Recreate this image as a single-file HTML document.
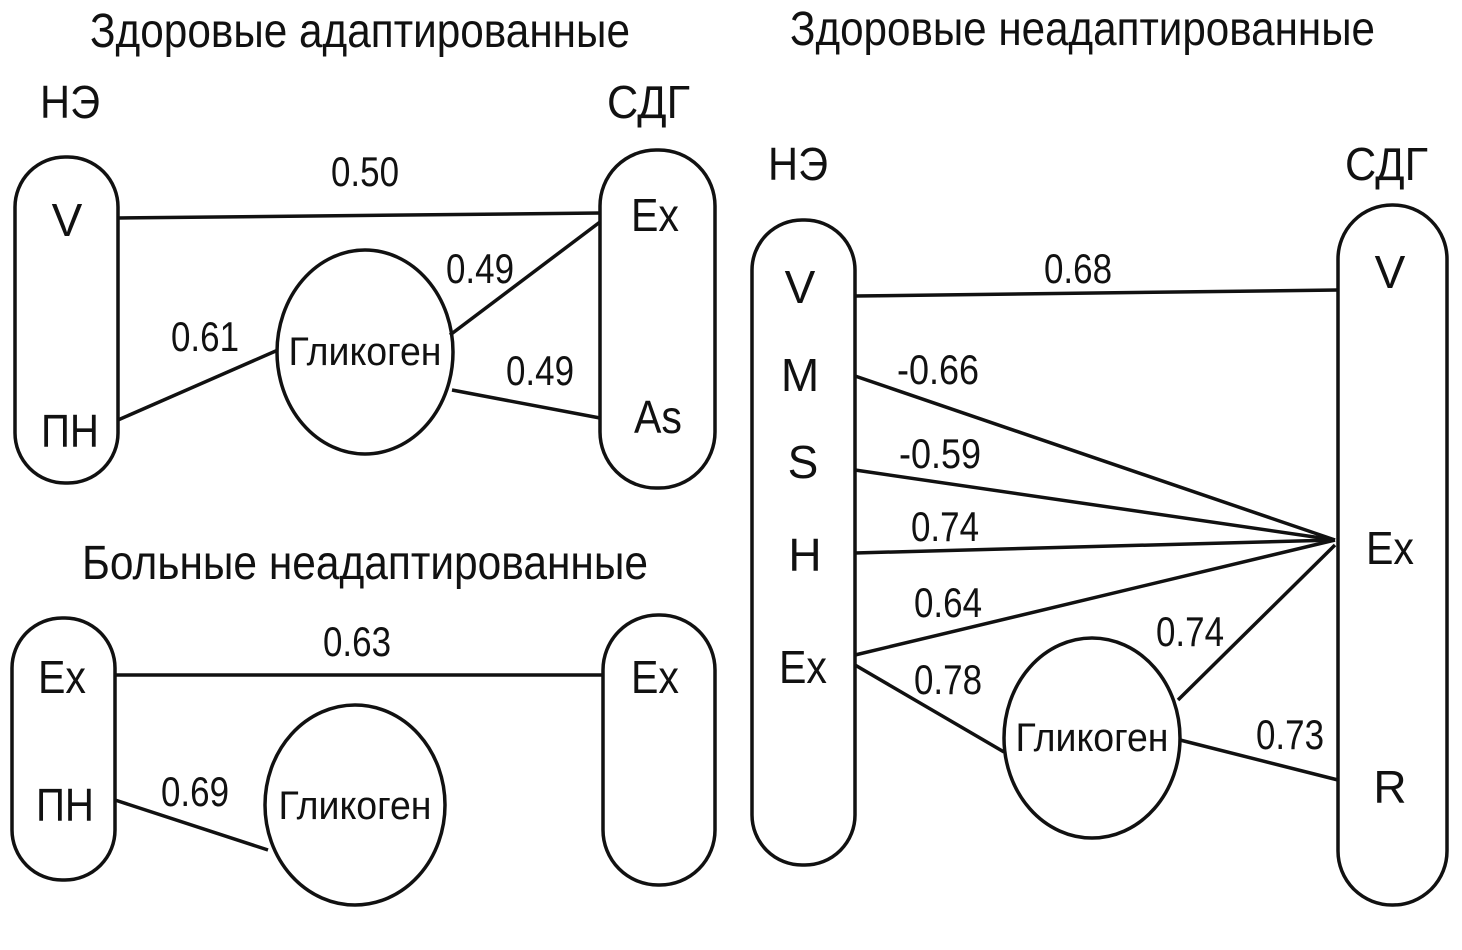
<!DOCTYPE html>
<html><head><meta charset="utf-8"><style>
html,body{margin:0;padding:0;background:#fff;}
svg{display:block}
text{font-family:"Liberation Sans Narrow","Liberation Sans",sans-serif;fill:#111;}
.t{font-size:48px}
.l{font-size:46px}
.n{font-size:42px}
.g{font-size:40px}
</style></head><body>
<svg width="1462" height="950" viewBox="0 0 1462 950" xmlns="http://www.w3.org/2000/svg">
<g fill="none" stroke="#111" stroke-width="3.5">
<rect x="15" y="157" width="103" height="326" rx="50"/>
<rect x="600" y="150" width="115" height="338" rx="56"/>
<ellipse cx="365" cy="352" rx="88" ry="102"/>
<line x1="118" y1="218" x2="600" y2="213"/>
<line x1="118" y1="420" x2="278" y2="350"/>
<line x1="450" y1="335" x2="600" y2="222"/>
<line x1="452" y1="390" x2="600" y2="418"/>
<rect x="12" y="618" width="103" height="262" rx="50"/>
<rect x="603" y="615" width="112" height="270" rx="55"/>
<ellipse cx="355" cy="805" rx="90" ry="100"/>
<line x1="115" y1="675" x2="603" y2="675"/>
<line x1="115" y1="800" x2="268" y2="850"/>
<rect x="752" y="220" width="103" height="645" rx="50"/>
<rect x="1338" y="205" width="109" height="700" rx="54"/>
<ellipse cx="1092" cy="738" rx="88" ry="100"/>
<line x1="855" y1="296" x2="1338" y2="290"/>
<line x1="855" y1="376" x2="1335" y2="540"/>
<line x1="855" y1="470" x2="1335" y2="540"/>
<line x1="855" y1="553" x2="1335" y2="540"/>
<line x1="855" y1="655" x2="1335" y2="540"/>
<line x1="855" y1="665" x2="1004" y2="752"/>
<line x1="1178" y1="700" x2="1335" y2="545"/>
<line x1="1180" y1="740" x2="1338" y2="780"/>
</g>
<text class="t" x="90" y="47" textLength="540" lengthAdjust="spacingAndGlyphs">Здоровые адаптированные</text>
<text class="t" x="790" y="45" textLength="585" lengthAdjust="spacingAndGlyphs">Здоровые неадаптированные</text>
<text class="t" x="82" y="579" textLength="566" lengthAdjust="spacingAndGlyphs">Больные неадаптированные</text>
<text class="l" x="40" y="118" textLength="60" lengthAdjust="spacingAndGlyphs">НЭ</text>
<text class="l" x="607" y="118" textLength="83" lengthAdjust="spacingAndGlyphs">СДГ</text>
<text class="l" x="768" y="180" textLength="60" lengthAdjust="spacingAndGlyphs">НЭ</text>
<text class="l" x="1345" y="180" textLength="83" lengthAdjust="spacingAndGlyphs">СДГ</text>
<g class="l" text-anchor="middle">
<text x="67" y="236">V</text>
<text x="70" y="447" textLength="58" lengthAdjust="spacingAndGlyphs">ПН</text>
<text x="655" y="231" textLength="48" lengthAdjust="spacingAndGlyphs">Ex</text>
<text x="658" y="433" textLength="48" lengthAdjust="spacingAndGlyphs">As</text>
<text x="62" y="693" textLength="48" lengthAdjust="spacingAndGlyphs">Ex</text>
<text x="65" y="821" textLength="58" lengthAdjust="spacingAndGlyphs">ПН</text>
<text x="655" y="693" textLength="48" lengthAdjust="spacingAndGlyphs">Ex</text>
<text x="800" y="303">V</text>
<text x="800" y="391">M</text>
<text x="803" y="478">S</text>
<text x="805" y="571">H</text>
<text x="803" y="683" textLength="48" lengthAdjust="spacingAndGlyphs">Ex</text>
<text x="1390" y="288">V</text>
<text x="1390" y="564" textLength="48" lengthAdjust="spacingAndGlyphs">Ex</text>
<text x="1390" y="803">R</text>
</g>
<g class="n" text-anchor="middle" lengthAdjust="spacingAndGlyphs">
<text x="365" y="186" textLength="68" lengthAdjust="spacingAndGlyphs">0.50</text>
<text x="480" y="283" textLength="68" lengthAdjust="spacingAndGlyphs">0.49</text>
<text x="540" y="385" textLength="68" lengthAdjust="spacingAndGlyphs">0.49</text>
<text x="205" y="351" textLength="68" lengthAdjust="spacingAndGlyphs">0.61</text>
<text x="357" y="656" textLength="68" lengthAdjust="spacingAndGlyphs">0.63</text>
<text x="195" y="806" textLength="68" lengthAdjust="spacingAndGlyphs">0.69</text>
<text x="1078" y="283" textLength="68" lengthAdjust="spacingAndGlyphs">0.68</text>
<text x="938" y="384" textLength="82" lengthAdjust="spacingAndGlyphs">-0.66</text>
<text x="940" y="468" textLength="82" lengthAdjust="spacingAndGlyphs">-0.59</text>
<text x="945" y="541" textLength="68" lengthAdjust="spacingAndGlyphs">0.74</text>
<text x="948" y="617" textLength="68" lengthAdjust="spacingAndGlyphs">0.64</text>
<text x="948" y="694" textLength="68" lengthAdjust="spacingAndGlyphs">0.78</text>
<text x="1190" y="646" textLength="68" lengthAdjust="spacingAndGlyphs">0.74</text>
<text x="1290" y="749" textLength="68" lengthAdjust="spacingAndGlyphs">0.73</text>
</g>
<g class="g" text-anchor="middle">
<text x="365" y="365" textLength="153" lengthAdjust="spacingAndGlyphs">Гликоген</text>
<text x="355" y="819" textLength="153" lengthAdjust="spacingAndGlyphs">Гликоген</text>
<text x="1092" y="751" textLength="153" lengthAdjust="spacingAndGlyphs">Гликоген</text>
</g>
</svg>
</body></html>
